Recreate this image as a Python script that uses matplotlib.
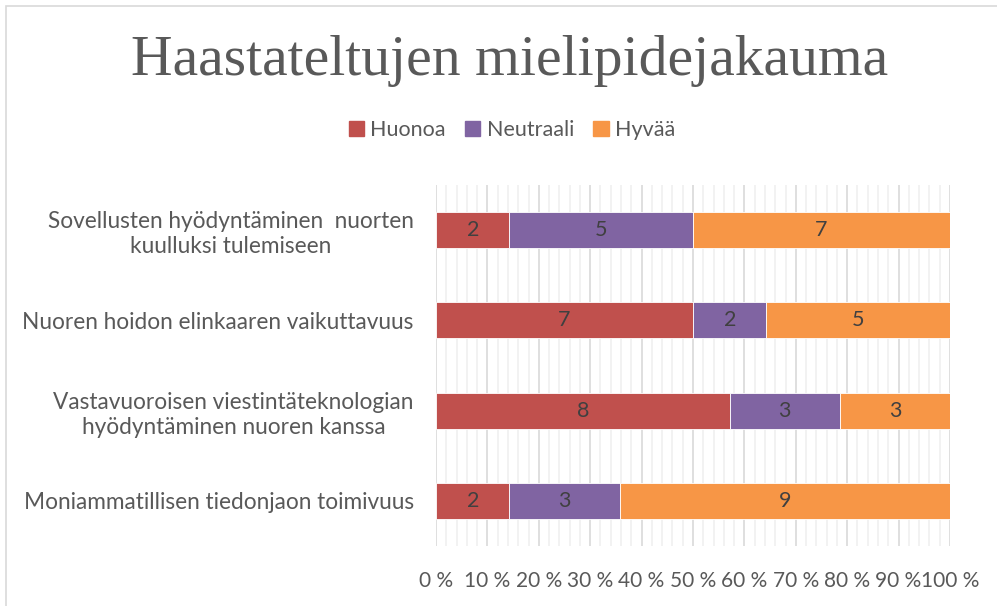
import numpy as np
import matplotlib.pyplot as plt
from matplotlib.patches import Rectangle, Patch
from matplotlib.ticker import MultipleLocator, FuncFormatter

kategoriat = ["Sovellusten hyödyntäminen  nuorten\nkuulluksi tulemiseen",
              "Nuoren hoidon elinkaaren vaikuttavuus",
              "Vastavuoroisen viestintäteknologian\nhyödyntäminen nuoren kanssa",
              "Moniammatillisen tiedonjaon toimivuus"]
sarjat = ["Huonoa", "Neutraali", "Hyvää"]
huonoa = [2, 7, 8, 2]
neutraali = [5, 2, 3, 3]
hyvaa = [7, 5, 3, 9]
varit = ["#C0504D", "#8064A2", "#F79646"]

arvot = np.array([huonoa, neutraali, hyvaa], dtype=float)
osuus = arvot / arvot.sum(axis=0) * 100

fig = plt.figure(figsize=(9.97, 6.06), dpi=100)
# kehys
fig.patches.append(Rectangle((6 / 997, -0.1), 1.2, 1 - 6 / 606 + 0.1, transform=fig.transFigure,
                             fill=False, edgecolor="#D9D9D9", lw=1.2))
ax = fig.add_axes([436 / 997, 1 - 546 / 606, 514 / 997, 361 / 606])

y = np.arange(len(kategoriat))
vasen = np.zeros(len(kategoriat))
for i in range(3):
    bars = ax.barh(y, osuus[i], left=vasen, height=0.4, color=varit[i],
                   edgecolor="white", lw=0.6, label=sarjat[i], zorder=3)
    for b, v in zip(bars, arvot[i]):
        ax.text(b.get_x() + b.get_width() / 2, b.get_y() + b.get_height() / 2, "%d" % v,
                ha="center", va="center", fontsize=15.5, color="#404040", family="Lato", zorder=4)
    vasen += osuus[i]

ax.set_ylim(len(kategoriat) - 0.5, -0.5)
ax.set_xlim(0, 100)
ax.set_yticks(y)
ax.set_yticklabels(kategoriat, fontsize=16.3, color="#595959", family="Lato",
                   multialignment="center", linespacing=1.25)
ax.xaxis.set_major_locator(MultipleLocator(10))
ax.xaxis.set_minor_locator(MultipleLocator(2))
ax.xaxis.set_major_formatter(FuncFormatter(lambda v, p: "%d %%" % v))
for t in ax.get_xticklabels():
    t.set_fontsize(15)
    t.set_color("#595959")
    t.set_family("Lato")
ax.tick_params(axis="both", length=0, pad=16)
ax.tick_params(axis="x", which="both", length=0, pad=18)
ax.grid(axis="x", which="major", color="#D9D9D9", lw=1.2, zorder=0)
ax.grid(axis="x", which="minor", color="#F0F0F0", lw=1.2, zorder=0)
for s in ax.spines.values():
    s.set_visible(False)

fig.text(510 / 997, 1 - 61 / 606, "Haastateltujen mielipidejakauma", ha="center", va="center",
         fontsize=41.5, color="#595959", family="Liberation Serif")
kahvat = [Patch(color=c) for c in varit]
fig.legend(kahvat, sarjat, loc="center", bbox_to_anchor=(512 / 997, 1 - 130 / 606), ncol=3,
           frameon=False, prop={"family": "Lato", "size": 15.5}, labelcolor="#595959",
           handlelength=0.7, handleheight=0.7, handletextpad=0.3, columnspacing=0.9)

fig.savefig("out.png", dpi=100)
